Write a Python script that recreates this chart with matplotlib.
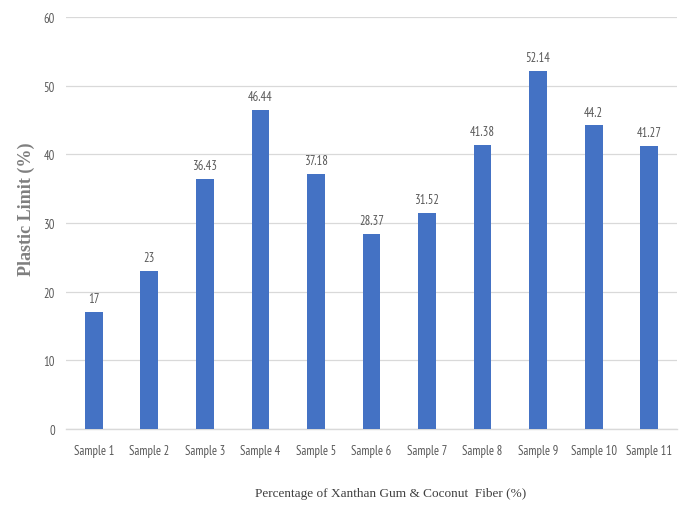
import matplotlib
matplotlib.use("Agg")
import matplotlib.pyplot as plt

samples = ["Sample 1", "Sample 2", "Sample 3", "Sample 4", "Sample 5", "Sample 6",
           "Sample 7", "Sample 8", "Sample 9", "Sample 10", "Sample 11"]
plastic_limit = [17, 23, 36.43, 46.44, 37.18, 28.37, 31.52, 41.38, 52.14, 44.2, 41.27]
value_labels = ["17", "23", "36.43", "46.44", "37.18", "28.37", "31.52", "41.38", "52.14", "44.2", "41.27"]
y_ticks = [0, 10, 20, 30, 40, 50, 60]

narrow = ["PT Sans Narrow", "DejaVu Sans"]
serif = ["Liberation Serif", "DejaVu Serif"]
text_gray = "#595959"

fig = plt.figure(figsize=(6.89, 5.06), dpi=100)
ax = fig.add_axes([66 / 689, 1 - 430 / 506, (677 - 66) / 689, (430 - 18) / 506])

x = list(range(len(samples)))
ax.bar(x, plastic_limit, width=0.32, color="#4472C4", zorder=3)

for xi, v, lab in zip(x, plastic_limit, value_labels):
    ax.annotate(lab, (xi, v), xytext=(0, 5), textcoords="offset points",
                ha="center", va="bottom", fontsize=9, family=narrow, color=text_gray)

ax.set_xlim(-0.5, len(samples) - 0.5)
ax.set_ylim(0, 60)
ax.set_yticks(y_ticks)
ax.set_xticks(x)
ax.set_xticklabels(samples, family=narrow, fontsize=9, color=text_gray)
ax.set_yticklabels([str(t) for t in y_ticks], family=narrow, fontsize=9, color=text_gray)
ax.tick_params(axis="both", length=0)
ax.tick_params(axis="x", pad=11)
ax.tick_params(axis="y", pad=8)

ax.grid(axis="y", color="#d9d9d9", linewidth=0.9, zorder=0)
for side in ["top", "right", "left"]:
    ax.spines[side].set_visible(False)
ax.spines["bottom"].set_color("#d9d9d9")
ax.spines["bottom"].set_linewidth(1.0)

fig.text(26 / 689, 1 - 209 / 506, "Plastic Limit (%)", rotation=90, ha="center", va="center",
         family=serif, fontweight="bold", fontsize=13, color="#7f7f7f")
fig.text(391 / 689, 1 - 494 / 506, "Percentage of Xanthan Gum & Coconut  Fiber (%)",
         ha="center", va="center", family=serif, fontsize=9.5, color="#404040")

fig.savefig("out.png", dpi=100)
